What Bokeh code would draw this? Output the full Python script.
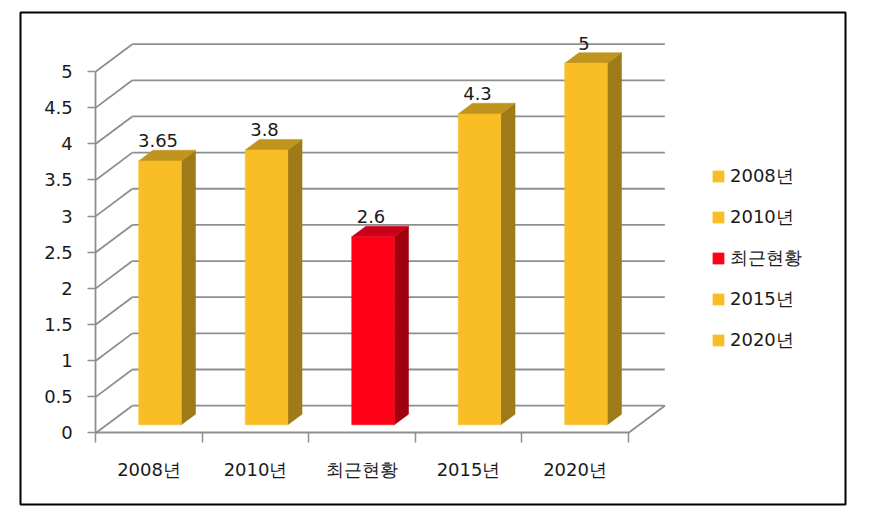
from bokeh.plotting import figure
from bokeh.models import Range1d, FixedTicker, Legend, LegendItem, ColumnDataSource
from bokeh.embed import file_html
from bokeh.resources import INLINE
from bokeh.core.properties import value

# ---- data ----
categories = ["2008년", "2010년", "최근현황", "2015년", "2020년"]
values = [3.65, 3.8, 2.6, 4.3, 5]
highlight = "최근현황"
y_ticks = [0, 0.5, 1, 1.5, 2, 2.5, 3, 3.5, 4, 4.5, 5]
y_tick_labels = ["0", "0.5", "1", "1.5", "2", "2.5", "3", "3.5", "4", "4.5", "5"]

# ---- style ----
FONT = "DejaVu Sans"
FS = "18px"
TXT = "#1a1a1a"
GRID = "#8e8e8e"
GOLD = ("#F9BE26", "#9E7B18", "#C0951F")   # front, side, top
RED = ("#FF0019", "#A1000F", "#C8001A")

# projection of the depth axis (in data units)
DX = 0.343      # full depth, x shift (category units)
DY = 0.378      # full depth, y shift (value units)
BW = 0.40       # bar width
DF = 0.30       # depth of bar front face
DB = 0.39       # bar depth

n = len(categories)
ymax = y_ticks[-1]

p = figure(width=855, height=510,
           x_range=Range1d(-0.7070, 7.0394), y_range=Range1d(-0.989, 5.816),
           output_backend="svg", toolbar_location=None,
           min_border_left=20, min_border_right=10, min_border_top=12, min_border_bottom=6)
p.grid.visible = False
p.outline_line_color = "black"
p.outline_line_width = 2
p.background_fill_color = "white"
p.border_fill_color = "white"

# ---- walls (left wall diagonals, back wall gridlines, floor) ----
p.segment(x0=[0] * len(y_ticks), y0=y_ticks,
          x1=[DX] * len(y_ticks), y1=[t + DY for t in y_ticks],
          line_color=GRID, line_width=1.8)
p.segment(x0=[DX] * len(y_ticks), y0=[t + DY for t in y_ticks],
          x1=[n + DX] * len(y_ticks), y1=[t + DY for t in y_ticks],
          line_color=GRID, line_width=1.8)
p.segment(x0=[n], y0=[0], x1=[n + DX], y1=[DY], line_color=GRID, line_width=1.8)

# ---- bars ----
cols = [RED if c == highlight else GOLD for c in categories]
cx = [i + 0.5 + DF * DX for i in range(n)]
base = DF * DY
src = ColumnDataSource(dict(
    left=[c - BW / 2 for c in cx], right=[c + BW / 2 for c in cx],
    bottom=[base] * n, top=[base + v for v in values],
    color=[c[0] for c in cols], label=categories))

side_xs = [[c + BW / 2, c + BW / 2 + DB * DX, c + BW / 2 + DB * DX, c + BW / 2] for c in cx]
side_ys = [[base, base + DB * DY, base + DB * DY + v, base + v] for v in values]
top_xs = [[c - BW / 2, c + BW / 2, c + BW / 2 + DB * DX, c - BW / 2 + DB * DX] for c in cx]
top_ys = [[base + v, base + v, base + v + DB * DY, base + v + DB * DY] for v in values]

p.patches(xs=side_xs, ys=side_ys, fill_color=[c[1] for c in cols],
          line_color=[c[1] for c in cols], line_width=0.5)
p.patches(xs=top_xs, ys=top_ys, fill_color=[c[2] for c in cols],
          line_color=[c[2] for c in cols], line_width=0.5)
front = p.quad(left="left", right="right", bottom="bottom", top="top",
               fill_color="color", line_color="color", line_width=0.5, source=src)

# value labels
p.text(x=cx, y=[base + v + DB * DY for v in values], text=[f"{v:g}" for v in values],
       text_align="center", text_baseline="bottom", x_offset=-2, y_offset=-3,
       text_font=value(FONT), text_font_size=FS, text_color=TXT)

# ---- axes ----
ya = p.yaxis[0]
ya.fixed_location = 0
ya.bounds = (0, ymax)
ya.ticker = FixedTicker(ticks=y_ticks)
ya.major_label_overrides = dict(zip(y_ticks, y_tick_labels))
ya.axis_line_color = GRID
ya.axis_line_width = 1.8
ya.major_tick_line_color = GRID
ya.major_tick_line_width = 1.5
ya.major_tick_out = 8
ya.major_tick_in = 0
ya.minor_tick_line_color = None
ya.major_label_standoff = 15
ya.major_label_text_font = FONT
ya.major_label_text_font_size = FS
ya.major_label_text_color = TXT

xa = p.xaxis[0]
centers = [i + 0.5 for i in range(n)]
xa.fixed_location = 0
xa.bounds = (0, n)
xa.ticker = FixedTicker(ticks=centers, minor_ticks=list(range(n + 1)))
xa.major_label_overrides = dict(zip(centers, categories))
xa.axis_line_color = GRID
xa.axis_line_width = 1.8
xa.major_tick_line_color = None
xa.major_tick_out = 0
xa.major_tick_in = 0
xa.minor_tick_line_color = GRID
xa.minor_tick_line_width = 1.5
xa.minor_tick_out = 10
xa.minor_tick_in = 0
xa.major_label_standoff = 16
xa.major_label_text_font = FONT
xa.major_label_text_font_size = FS
xa.major_label_text_color = TXT

# ---- legend ----
legend = Legend(items=[LegendItem(label=c, renderers=[front], index=i) for i, c in enumerate(categories)],
                location=(691, 151), padding=0, margin=0,
                border_line_color=None, background_fill_alpha=0,
                glyph_width=14, glyph_height=14, label_height=26, spacing=15,
                label_standoff=5, label_text_font=FONT, label_text_font_size=FS,
                label_text_color=TXT)
p.add_layout(legend)

open("out.html", "w").write(file_html(p, INLINE))
